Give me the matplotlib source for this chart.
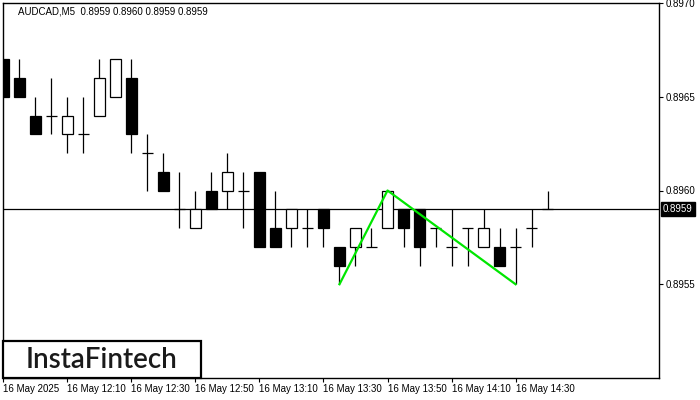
import numpy as np
import matplotlib.pyplot as plt
from matplotlib.patches import Rectangle
import matplotlib.transforms as mtransforms

# AUDCAD M5, 16 May 2025 from 12:00
opens = [0.8967, 0.8966, 0.8964, 0.8964, 0.8963, 0.8963, 0.8964, 0.8965, 0.8966, 0.8962,
         0.8961, 0.8959, 0.8958, 0.8960, 0.8960, 0.8960, 0.8961, 0.8958, 0.8958, 0.8958,
         0.8959, 0.8957, 0.8957, 0.8957, 0.8958, 0.8959, 0.8959, 0.8958, 0.8957, 0.8958,
         0.8957, 0.8957, 0.8957, 0.8958, 0.8959]
highs = [0.8967, 0.8967, 0.8965, 0.8966, 0.8965, 0.8965, 0.8967, 0.8967, 0.8967, 0.8963,
         0.8962, 0.8961, 0.8960, 0.8961, 0.8962, 0.8961, 0.8961, 0.8960, 0.8959, 0.8959,
         0.8959, 0.8957, 0.8958, 0.8958, 0.8960, 0.8959, 0.8959, 0.8958, 0.8959, 0.8958,
         0.8959, 0.8958, 0.8958, 0.8959, 0.8960]
lows = [0.8965, 0.8965, 0.8963, 0.8963, 0.8962, 0.8962, 0.8964, 0.8965, 0.8962, 0.8960,
        0.8960, 0.8958, 0.8958, 0.8959, 0.8959, 0.8958, 0.8957, 0.8957, 0.8957, 0.8957,
        0.8957, 0.8955, 0.8956, 0.8957, 0.8958, 0.8957, 0.8956, 0.8957, 0.8956, 0.8956,
        0.8957, 0.8956, 0.8955, 0.8957, 0.8959]
closes = [0.8965, 0.8965, 0.8963, 0.8964, 0.8964, 0.8963, 0.8966, 0.8967, 0.8963, 0.8962,
          0.8960, 0.8959, 0.8959, 0.8959, 0.8961, 0.8960, 0.8957, 0.8957, 0.8959, 0.8958,
          0.8958, 0.8956, 0.8958, 0.8957, 0.8960, 0.8958, 0.8957, 0.8958, 0.8957, 0.8958,
          0.8958, 0.8956, 0.8957, 0.8958, 0.8959]

# pattern (double bottom) points
pattern_x = [21, 24, 32]
pattern_y = [0.8955, 0.8960, 0.8955]

last_price = 0.8959
header = "AUDCAD,M5  0.8959 0.8960 0.8959 0.8959"

tick_pos = [0, 4, 8, 12, 16, 20, 24, 28, 32]
tick_labels = ["16 May 2025", "16 May 12:10", "16 May 12:30", "16 May 12:50", "16 May 13:10",
               "16 May 13:30", "16 May 13:50", "16 May 14:10", "16 May 14:30"]
price_ticks = [0.8955, 0.8960, 0.8965, 0.8970]

fig = plt.figure(figsize=(7, 4), dpi=100)
ax = fig.add_axes([3 / 700, 22 / 400, 656 / 700, 375 / 400])

lw = 0.9
w = 0.65
x = np.arange(len(opens))
for i in x:
    o, h, l, c = opens[i], highs[i], lows[i], closes[i]
    ax.vlines(i, l, h, color="black", lw=lw, zorder=2)
    if o == c:
        ax.hlines(o, i - w / 2, i + w / 2, color="black", lw=lw, zorder=3)
    else:
        fc = "white" if c > o else "black"
        ax.add_patch(Rectangle((i - w / 2, min(o, c)), w, abs(c - o),
                               facecolor=fc, edgecolor="black", lw=lw, zorder=3))

ax.axhline(last_price, color="black", lw=lw, zorder=1)
ax.plot(pattern_x, pattern_y, color="#00e600", lw=1.6, zorder=4)

ax.set_xlim(-0.02, 40.96)
ax.set_ylim(0.89500, 0.89700)

ax.yaxis.tick_right()
ax.set_yticks(price_ticks)
ax.set_yticklabels([f"{p:.4f}" for p in price_ticks])
ax.set_xticks(tick_pos)
ax.set_xticklabels(tick_labels, ha="left")
ax.tick_params(axis="both", direction="out", length=3, width=0.8, labelsize=7,
               colors="black", pad=2)
ax.tick_params(axis="x", pad=1)
for lab in ax.get_xticklabels() + ax.get_yticklabels():
    lab.set_fontfamily("Liberation Sans")
for sp in ax.spines.values():
    sp.set_linewidth(1)

# current price box
trans = mtransforms.blended_transform_factory(ax.transAxes, ax.transData)
ax.text(1.006, last_price, f"{last_price:.4f}", transform=trans, ha="left", va="center",
        fontsize=7, color="white", family="Liberation Sans",
        bbox=dict(boxstyle="square,pad=0.2", facecolor="black", edgecolor="black"))

fig.text(18 / 700, 1 - 11 / 400, header, fontsize=7, family="Liberation Sans",
         ha="left", va="center", color="black")

# logo
fig.add_artist(Rectangle((3 / 700, 22 / 400), 198 / 700, 37 / 400, transform=fig.transFigure,
                         facecolor="white", edgecolor="black", lw=1.6, zorder=5))
fig.text(102 / 700, 1 - 360 / 400, "InstaFintech", fontsize=20, family="Lato",
         fontweight="semibold", ha="center", va="center", color="#1a1a1a", zorder=6)

fig.savefig("out.png", dpi=100)
